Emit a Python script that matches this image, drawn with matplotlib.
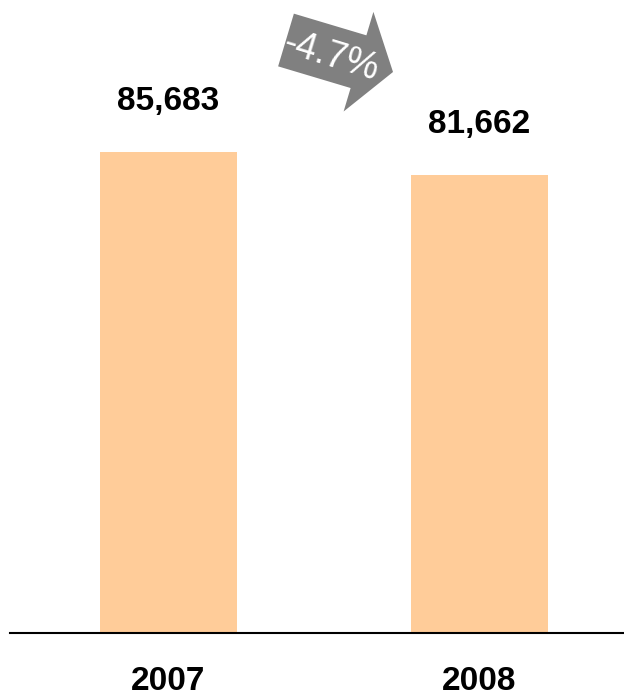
import matplotlib.pyplot as plt
from matplotlib.patches import FancyArrow

# data
years = ["2007", "2008"]
values = [85683, 81662]
change_label = "-4.7%"

plt.rcParams["font.family"] = ["Liberation Sans", "DejaVu Sans"]

fig = plt.figure(figsize=(6.24, 6.99), dpi=100)
ax = fig.add_axes([10 / 624, 66 / 699, 614 / 624, 633 / 699])

x = range(len(years))
bars = ax.bar(x, values, width=0.44, color="#FFCC99")
ax.set_xlim(-0.5096, 1.4646)
ax.set_ylim(0, 112750)

for b, v in zip(bars, values):
    ax.text(b.get_x() + b.get_width() / 2, v + 9000, f"{v:,}",
            ha="center", va="center", fontsize=24, fontweight="bold")

for xi, yr in zip(x, years):
    ax.text(xi, -0.077, yr, transform=ax.get_xaxis_transform(),
            ha="center", va="center", fontsize=24, fontweight="bold",
            clip_on=False)

for s in ["top", "right", "left"]:
    ax.spines[s].set_visible(False)
ax.spines["bottom"].set_linewidth(1.5)
ax.set_xticks([])
ax.set_yticks([])

# change arrow (figure inches, origin bottom left)
arr = FancyArrow(2.86, 6.59, 1.07, -0.32, width=0.55, head_width=1.04,
                 head_length=0.36, length_includes_head=True,
                 transform=fig.dpi_scale_trans, color="#808080", lw=0)
fig.patches.append(arr)
fig.text(3.31 / 6.24, (6.99 - 0.57) / 6.99, change_label, color="white",
         fontsize=27, rotation=-17, ha="center", va="center",
         rotation_mode="anchor")

fig.savefig("out.png", dpi=100)
